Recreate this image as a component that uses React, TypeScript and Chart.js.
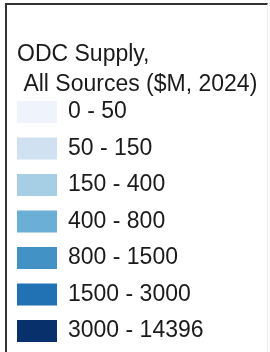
import React, { useEffect, useRef } from "react";
import { Chart, registerables } from "chart.js";

Chart.register(...registerables);

const titleLines = ["ODC Supply,", " All Sources ($M, 2024)"];
const classLabels = [
  "0 - 50",
  "50 - 150",
  "150 - 400",
  "400 - 800",
  "800 - 1500",
  "1500 - 3000",
  "3000 - 14396",
];
const swatchValues = [1, 1, 1, 1, 1, 1, 1];
const swatchColors = [
  "#eff4fc",
  "#d0e1f2",
  "#a6cee4",
  "#6baed6",
  "#4292c6",
  "#2171b5",
  "#08306b",
];

const FONT = "'Liberation Sans', Arial, sans-serif";
const TEXT = "#1a1a1a";

export default function App() {
  const ref = useRef<HTMLCanvasElement | null>(null);

  useEffect(() => {
    if (!ref.current) return;
    const chart = new Chart(ref.current, {
      type: "bar",
      data: {
        labels: classLabels,
        datasets: [
          {
            data: swatchValues,
            backgroundColor: swatchColors,
            borderWidth: 0,
            barPercentage: 1,
            categoryPercentage: 22 / 36.5,
          },
        ],
      },
      options: {
        indexAxis: "y",
        responsive: false,
        animation: false,
        events: [],
        layout: { padding: { left: 17, right: 0, top: 0, bottom: 2.75 } },
        plugins: {
          legend: { display: false },
          tooltip: { enabled: false },
          title: {
            display: true,
            text: titleLines,
            align: "start",
            color: TEXT,
            font: { family: FONT, size: 23, weight: "normal", lineHeight: 30 / 23 },
            padding: { top: 40, bottom: -6.25 },
          },
        },
        scales: {
          x: { display: false, min: 0, max: 1 },
          y: {
            position: "right",
            grid: { display: false, drawTicks: false },
            border: { display: false },
            ticks: {
              padding: 11,
              color: TEXT,
              font: { family: FONT, size: 23 },
              autoSkip: false,
            },
            afterFit: (scale: any) => {
              scale.width = 213;
              scale.paddingTop = 0;
              scale.paddingBottom = 0;
            },
          },
        },
      },
    });
    return () => chart.destroy();
  }, []);

  return (
    <div style={{ position: "absolute", left: 0, top: 0, width: 270, height: 352, background: "#fff" }}>
      <div
        style={{
          position: "absolute",
          left: 5,
          top: 3,
          width: 260,
          height: 349,
          borderLeft: "2px solid #333",
          borderTop: "2px solid #333",
          borderRight: "1px solid #ececec",
        }}
      />
      <canvas ref={ref} width={270} height={352} style={{ position: "absolute", left: 0, top: 0, width: 270, height: 352 }} />
    </div>
  );
}
